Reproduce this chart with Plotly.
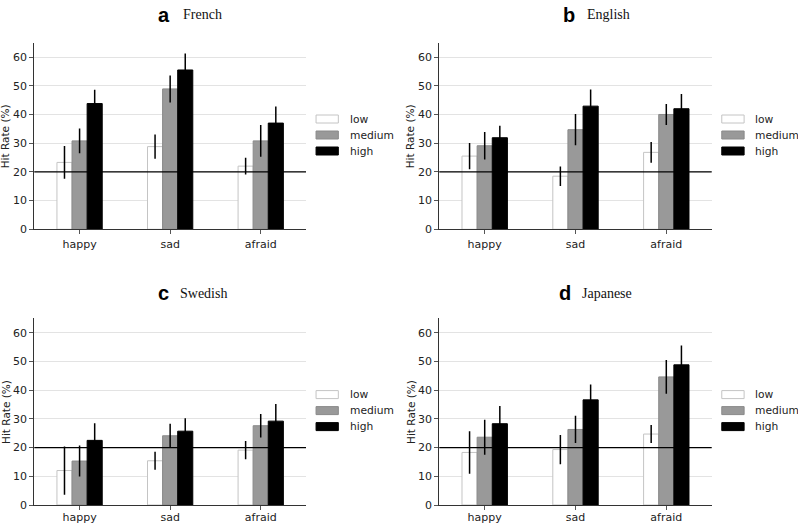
import plotly.graph_objects as go

emotions = ["happy", "sad", "afraid"]
levels = ["low", "medium", "high"]
languages = ["French", "English", "Swedish", "Japanese"]
panel_letters = ["a", "b", "c", "d"]

# Hit rates (%) per language: rows = level (low, medium, high), cols = emotion
french_vals = [[23.3, 28.8, 22.0], [30.8, 48.9, 30.8], [43.8, 55.5, 37.0]]
french_err = [[5.7, 4.2, 2.9], [4.3, 4.7, 5.5], [4.8, 5.7, 5.8]]
english_vals = [[25.5, 18.5, 26.8], [29.1, 34.7, 40.0], [31.9, 42.9, 42.0]]
english_err = [[4.6, 3.4, 3.65], [4.75, 5.45, 3.65], [4.2, 5.8, 5.1]]
swedish_vals = [[12.0, 15.4, 19.1], [15.3, 24.1, 27.6], [22.5, 25.7, 29.2]]
swedish_err = [[8.4, 3.1, 3.15], [5.4, 4.2, 4.1], [6.0, 4.5, 5.95]]
japanese_vals = [[18.3, 19.3, 24.7], [23.6, 26.3, 44.6], [28.3, 36.6, 48.8]]
japanese_err = [[7.4, 5.1, 3.15], [6.1, 4.75, 5.85], [6.15, 5.35, 6.7]]

chance_level = 20
y_ticks = [0, 10, 20, 30, 40, 50, 60]

all_vals = [french_vals, english_vals, swedish_vals, japanese_vals]
all_errs = [french_err, english_err, swedish_err, japanese_err]

W, H = 798, 524
fill_colors = ["#ffffff", "#999999", "#000000"]
edge_colors = ["#c4c4c4", "#8a8a8a", "#000000"]

# panel pixel boxes: (left, right, top, bottom)
boxes = [(34.3, 306.0, 42.7, 229.3), (439.3, 711.7, 42.7, 229.3),
         (34.3, 306.0, 318.3, 505.0), (439.3, 711.7, 318.3, 505.0)]

fig = go.Figure()
layout_axes = {}
shapes = []
annotations = []
font_sans = "DejaVu Sans"
txt_color = "#222222"

title_pos = [  # (letter right edge px, name left edge px, y centre px)
    (172.0, 181.0, 14.5), (577.0, 585.0, 14.5),
    (170.5, 177.5, 293.0), (573.0, 580.0, 292.5)]

for p in range(4):
    xa = "x" if p == 0 else f"x{p+1}"
    ya = "y" if p == 0 else f"y{p+1}"
    l, r, t, b = boxes[p]
    for li, lev in enumerate(levels):
        fig.add_trace(go.Bar(
            x=emotions, y=all_vals[p][li], name=lev, showlegend=False,
            xaxis=xa, yaxis=ya, offsetgroup=str(li),
            marker=dict(color=fill_colors[li],
                        line=dict(color=edge_colors[li], width=1)),
            error_y=dict(type="data", array=all_errs[p][li], visible=True,
                         color="#000000", thickness=1.5, width=0),
        ))
    sfx = "" if p == 0 else str(p + 1)
    layout_axes["xaxis" + sfx] = dict(
        domain=[l / W, r / W], anchor=ya, range=[-0.5, 2.5],
        showline=True, linecolor="#333333", linewidth=1.2,
        ticks="outside", ticklen=4, tickcolor="#555555",
        ticklabelstandoff=(-2 if p >= 2 else 0),
        showgrid=False, zeroline=False, automargin=False,
        tickfont=dict(family=font_sans, size=11, color=txt_color),
        fixedrange=True)
    layout_axes["yaxis" + sfx] = dict(
        domain=[1 - b / H, 1 - t / H], anchor=xa, range=[0, 65],
        tickvals=y_ticks, showline=True, linecolor="#333333", linewidth=1.2,
        ticks="outside", ticklen=4, tickcolor="#555555",
        showgrid=True, gridcolor="#e3e3e3", gridwidth=1,
        zeroline=False, automargin=False,
        tickfont=dict(family=font_sans, size=11, color=txt_color),
        fixedrange=True)

    # chance level line
    shapes.append(dict(type="line", xref=f"{xa} domain", yref=ya,
                       x0=0, x1=1, y0=chance_level, y1=chance_level,
                       line=dict(color="#000000", width=1.3), layer="above"))

    # y-axis title
    annotations.append(dict(text="Hit Rate (%)", textangle=-90,
                            xref="paper", yref="paper",
                            x=(l - 29) / W, y=1 - ((t + b) / 2) / H,
                            xanchor="center", yanchor="middle", showarrow=False,
                            font=dict(family=font_sans, size=10.5, color=txt_color)))

    # panel title
    lx, nx, ty = title_pos[p]
    annotations.append(dict(text="<b>" + panel_letters[p] + "</b>",
                            xref="paper", yref="paper", x=lx / W, y=1 - ty / H,
                            xanchor="right", yanchor="middle", showarrow=False,
                            font=dict(family="Liberation Sans", size=20, color="#000000")))
    annotations.append(dict(text=languages[p],
                            xref="paper", yref="paper", x=nx / W, y=1 - (ty + 0.5) / H,
                            xanchor="left", yanchor="middle", showarrow=False,
                            font=dict(family="Liberation Serif", size=14, color="#111111")))

    # legend drawn per panel
    ph = b - t
    for li, lev in enumerate(levels):
        cy_dom = (b - (t + 76.3 + 16 * li)) / ph
        shapes.append(dict(type="rect", xref=f"{xa} domain", yref=f"{ya} domain",
                           x0=1.037, x1=1.119, y0=cy_dom - 4 / ph, y1=cy_dom + 4 / ph,
                           fillcolor=fill_colors[li],
                           line=dict(color=edge_colors[li], width=1)))
        annotations.append(dict(text=lev, xref=f"{xa} domain", yref=f"{ya} domain",
                                x=1.153, y=cy_dom, xanchor="left", yanchor="middle",
                                showarrow=False,
                                font=dict(family=font_sans, size=10.7, color=txt_color)))

fig.update_layout(
    width=W, height=H, margin=dict(l=0, r=0, t=0, b=0),
    paper_bgcolor="white", plot_bgcolor="white",
    barmode="group", bargap=0.5, bargroupgap=0,
    showlegend=False, shapes=shapes, annotations=annotations,
    **layout_axes)

fig.write_html("out.html", config={"displayModeBar": False},
               post_script="document.body.style.margin='0';")
